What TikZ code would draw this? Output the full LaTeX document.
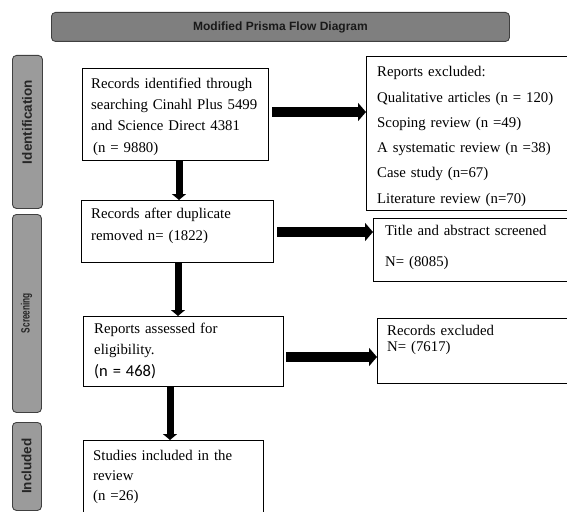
\documentclass[tikz,border=0pt]{standalone}
\usepackage{fontspec}
\setmainfont{Liberation Serif}
\newfontfamily\arialf{Liberation Sans}
\newfontfamily\calif{Carlito}
\usetikzlibrary{arrows.meta}
\definecolor{barfill}{HTML}{9B9B9B}
\definecolor{titlefill}{HTML}{7F7F7F}
\definecolor{barline}{HTML}{404040}
\begin{document}
\begin{tikzpicture}[x=1pt,y=-1pt,
  box/.style={draw=black, line width=0.8pt, anchor=north west, inner sep=0pt},
  txt/.style={anchor=base west, inner sep=0pt, align=left, text width=#1},
  txt/.default=200pt,
  bar/.style={draw=barline, fill=barfill, rounded corners=4pt, line width=0.9pt, anchor=north west, inner sep=0pt},
  lab/.style={rotate=90, inner sep=0pt, text=black!85},
  harrow/.style={line width=10pt, -{Triangle[width=18pt,length=8pt]}},
  varrow/.style={line width=7pt, -{Triangle[width=14pt,length=6pt]}},
]
\useasboundingbox (0,0) rectangle (567,511);
\clip (0,0) rectangle (567,511);

% title
\node[bar, fill=titlefill, minimum width=458pt, minimum height=29pt] (title) at (51,12) {};
\node[inner sep=0pt, font=\arialf\bfseries\fontsize{12}{14}\selectfont, text=black!90] (titletext) at (title.center) {Modified Prisma Flow Diagram};

% side bars
\node[bar, minimum width=30pt, minimum height=153pt] (idbar) at (12,55) {};
\node[bar, minimum width=29pt, minimum height=198pt] (scbar) at (12,214) {};
\node[bar, minimum width=29pt, minimum height=88pt] (inbar) at (12,422) {};
\node[lab, font=\arialf\bfseries\fontsize{13.5}{15}\selectfont] (idlab) at (27,122) {Identification};
\node[lab, font=\arialf\bfseries\fontsize{12}{13}\selectfont] (sclab) at (26.5,313) {\scalebox{0.69}[1]{Screening}};
\node[lab, font=\arialf\bfseries\fontsize{13.5}{15}\selectfont] (inlab) at (26.5,466) {Included};

% left column boxes
\node[box, minimum width=186pt, minimum height=92pt] (b1) at (82,68) {};
\node[txt=170pt, font=\fontsize{14.8}{21.5}\selectfont] (t1) at (91,88)
  {\makebox[167pt][s]{Records identified through}\\
   \makebox[167pt][s]{searching Cinahl Plus 5499}\\
   \makebox[157pt][s]{and Science Direct 4381}\\
   \hspace*{2pt}(n = 9880)};

\node[box, minimum width=192pt, minimum height=62pt] (b2) at (81,200) {};
\node[txt=180pt, font=\fontsize{14.8}{22}\selectfont] (t2) at (91,218)
  {Records after duplicate\\ removed n= (1822)};

\node[box, minimum width=200pt, minimum height=70pt] (b3) at (83,316) {};
\node[txt=180pt, font=\fontsize{14.8}{21}\selectfont] (t3) at (94,333)
  {Reports assessed for\\ eligibility.\\[1pt] {\calif\fontsize{16.5}{18}\selectfont (n = 468)}};

\node[box, minimum width=180pt, minimum height=90pt] (b4) at (83,440) {};
\node[txt=170pt, font=\fontsize{14.8}{20}\selectfont] (t4) at (93,460)
  {Studies included in the\\ review\\ (n =26)};

% right column boxes
\node[box, minimum width=220pt, minimum height=154pt] (b5) at (366,56) {};
\node[txt=200pt, font=\fontsize{14.8}{25.2}\selectfont] (t5) at (377,77)
  {Reports excluded:\\
   Qualitative articles (n = 120)\\
   Scoping review (n =49)\\
   A systematic review (n =38)\\
   Case study (n=67)\\
   Literature review (n=70)};

\node[box, minimum width=220pt, minimum height=63pt] (b6) at (373,218) {};
\node[txt=190pt, font=\fontsize{14.8}{31}\selectfont] (t6) at (385,235)
  {Title and abstract screened\\ N= (8085)};

\node[box, minimum width=220pt, minimum height=65pt] (b7) at (377,318) {};
\node[txt=180pt, font=\fontsize{14.8}{16}\selectfont] (t7) at (387,335)
  {Records excluded\\ N= (7617)};

% arrows
\coordinate (a1s) at (272,112);
\coordinate (a2s) at (277,232);
\coordinate (a3s) at (286,357);
\draw[harrow] (a1s) -- (a1s -| b5.west);
\draw[harrow] (a2s) -- (a2s -| b6.west);
\draw[harrow] (a3s) -- (a3s -| b7.west);

\coordinate (v1) at (179,0);
\coordinate (v2) at (178,0);
\coordinate (v3) at (170,0);
\draw[varrow] (v1 |- b1.south) -- (v1 |- b2.north);
\draw[varrow] (v2 |- b2.south) -- (v2 |- b3.north);
\draw[varrow] (v3 |- b3.south) -- (v3 |- b4.north);
\end{tikzpicture}
\end{document}
